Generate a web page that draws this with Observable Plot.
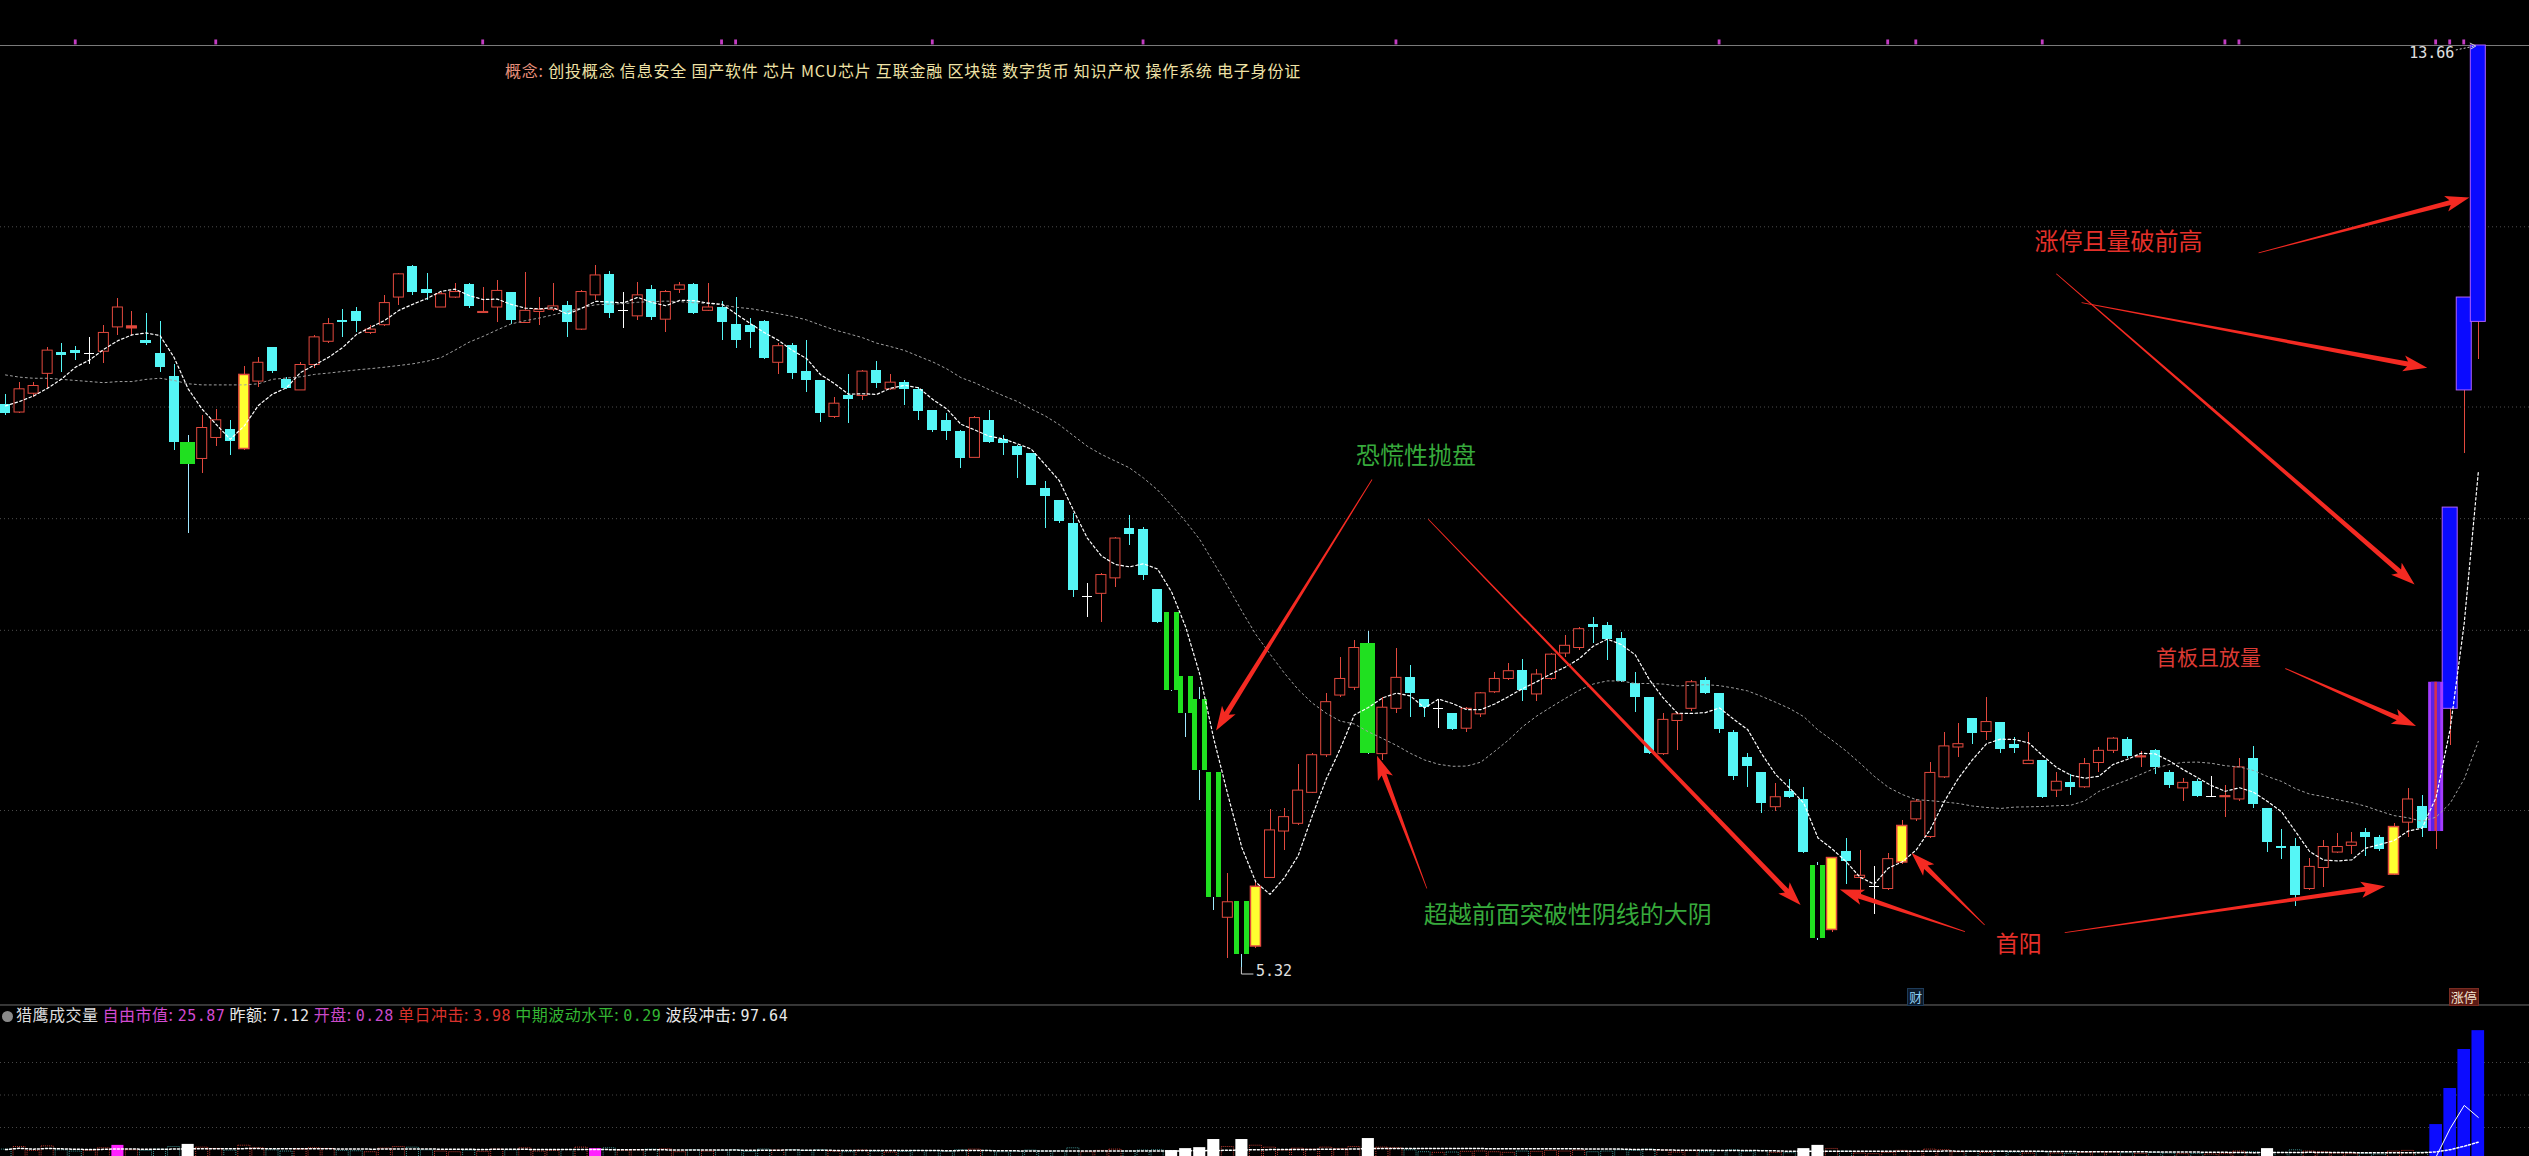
<!DOCTYPE html>
<html>
<head>
<meta charset="utf-8">
<script src="https://cdn.jsdelivr.net/npm/d3@7"></script>
<script src="https://cdn.jsdelivr.net/npm/@observablehq/plot@0.6"></script>
<style>
  html, body { margin: 0; padding: 0; background: #000; }
  #wrap { position: relative; width: 2529px; height: 1156px; overflow: hidden; background: #000;
          font-family: "Noto Sans CJK SC", "Noto Sans", sans-serif; }
  #price { position: absolute; left: 0; top: 0; }
  #vol { position: absolute; left: 0; top: 1004px; }
  #concept { position: absolute; left: 505px; top: 60px; font-size: 16px; line-height: 20px;
             color: #efe2a6; white-space: pre; letter-spacing: 0.8px; }
  #volhead { position: absolute; left: 2px; top: 1004px; font-size: 16px; line-height: 20px;
             white-space: pre; color: #e6e6e6; letter-spacing: 0.5px; }
  #volhead .num { font-family: "DejaVu Sans Mono", monospace; font-size: 15px; }
  .icon { display: inline-block; width: 11px; height: 11px; border-radius: 50%; background: #8a8a8a;
          margin-right: 3px; vertical-align: -1px; }
  .tag { position: absolute; font-size: 13px; line-height: 16px; padding: 0 1px; }
</style>
</head>
<body>
<div id="wrap">
  <div id="price"></div>
  <div id="vol"></div>
  <div id="concept"></div>
  <div id="volhead"></div>
</div>
<script>
// ---------- daily bars ----------
const open = [
10.41,10.34,10.51,10.69,10.88,10.90,10.87,10.89,11.11,11.10,
10.99,10.87,10.67,10.07,9.92,10.11,10.19,10.01,10.62,10.93,
10.64,10.54,10.77,10.98,11.17,11.25,11.06,11.13,11.38,11.66,
11.45,11.29,11.38,11.50,11.24,11.29,11.43,11.15,11.25,11.27,
11.31,11.09,11.40,11.59,11.26,11.21,11.45,11.18,11.45,11.50,
11.26,11.29,11.14,11.13,11.16,10.79,10.95,10.71,10.63,10.30,
10.49,10.49,10.72,10.55,10.61,10.55,10.36,10.27,10.17,9.93,
10.27,10.10,10.03,9.97,9.65,9.54,9.34,8.68,8.70,8.84,
9.29,9.28,8.74,8.53,7.95,7.74,7.08,5.77,5.92,5.51,
6.13,6.55,6.62,6.90,7.24,7.78,7.85,8.25,7.25,7.66,
7.94,7.74,7.66,7.62,7.48,7.61,7.81,7.93,8.01,7.79,
7.93,8.16,8.21,8.42,8.41,8.30,7.89,7.76,7.25,7.55,
7.66,7.92,7.80,7.45,7.22,7.08,6.77,6.91,6.84,6.24,
5.66,6.37,6.13,6.05,6.03,6.27,6.66,6.50,7.04,7.31,
7.57,7.45,7.54,7.34,7.16,7.19,6.92,6.99,6.95,7.17,
7.28,7.38,7.22,7.28,7.08,6.94,7.00,6.87,6.86,6.84,
7.21,6.76,6.41,6.41,6.03,6.22,6.36,6.42,6.54,6.50,
6.16,6.63,6.78,6.55,7.66,10.54,11.16
];
const high = [
10.50,10.61,10.61,10.93,10.96,10.94,11.02,11.13,11.37,11.25,
11.24,11.16,10.77,10.13,10.31,10.37,10.27,10.76,10.84,10.93,
10.66,10.79,11.04,11.19,11.27,11.29,11.13,11.40,11.60,11.67,
11.60,11.43,11.51,11.51,11.47,11.53,11.43,11.61,11.38,11.51,
11.34,11.44,11.67,11.62,11.43,11.52,11.49,11.44,11.52,11.51,
11.51,11.34,11.38,11.19,11.17,10.96,10.96,10.99,10.63,10.48,
10.68,10.72,10.80,10.68,10.63,10.57,10.36,10.33,10.18,10.30,
10.36,10.13,10.04,9.97,9.72,9.54,9.43,8.79,8.88,9.21,
9.41,9.30,8.74,8.53,7.95,7.85,7.08,6.17,5.92,6.09,
6.75,6.76,7.16,7.26,7.80,8.12,8.28,8.36,7.76,8.21,
8.05,7.74,7.74,7.62,7.67,7.81,7.99,8.07,8.11,8.02,
8.16,8.32,8.40,8.49,8.44,8.35,7.99,7.76,7.62,7.63,
7.92,7.94,7.80,7.46,7.26,7.08,6.98,7.02,6.95,6.27,
6.31,6.49,6.38,6.23,6.35,6.65,6.84,7.17,7.45,7.53,
7.57,7.76,7.54,7.40,7.45,7.19,7.08,7.07,7.21,7.31,
7.40,7.40,7.27,7.29,7.10,7.03,7.02,7.05,6.97,7.21,
7.32,6.76,6.57,6.49,6.31,6.47,6.53,6.54,6.58,6.51,
6.62,6.94,6.88,7.90,9.48,11.38,13.66
];
const low = [
10.31,10.33,10.48,10.56,10.70,10.81,10.77,10.78,11.04,11.04,
10.95,10.70,10.00,9.25,9.79,10.03,9.95,10.00,10.57,10.69,
10.55,10.54,10.74,10.96,11.02,11.06,11.05,11.12,11.31,11.40,
11.35,11.29,11.37,11.28,11.24,11.15,11.14,11.15,11.13,11.25,
11.02,11.08,11.35,11.19,11.10,11.17,11.17,11.06,11.42,11.23,
11.25,10.99,10.92,10.92,10.82,10.68,10.64,10.52,10.25,10.29,
10.24,10.45,10.56,10.54,10.40,10.27,10.16,10.09,9.83,9.93,
10.06,9.95,9.74,9.68,9.29,9.34,8.67,8.49,8.44,8.76,
9.14,8.82,8.43,7.82,7.40,6.83,5.84,5.40,5.32,5.49,
6.13,6.38,6.60,6.89,7.22,7.76,7.83,7.25,7.19,7.62,
7.58,7.58,7.48,7.46,7.45,7.58,7.80,7.92,7.73,7.73,
7.92,8.12,8.19,8.25,8.10,7.90,7.63,7.25,7.24,7.28,
7.64,7.79,7.44,7.01,6.95,6.71,6.73,6.85,6.35,5.56,
5.64,6.07,5.94,5.80,6.02,6.25,6.64,6.49,7.03,7.22,
7.34,7.37,7.26,7.26,7.16,6.85,6.86,6.88,6.94,7.08,
7.26,7.21,7.13,7.07,6.94,6.82,6.86,6.86,6.68,6.82,
6.76,6.36,6.30,5.87,6.02,6.04,6.35,6.34,6.32,6.37,
6.15,6.50,6.50,6.39,7.33,9.97,10.82
];
const close = [
10.33,10.55,10.58,10.90,10.86,10.87,10.87,11.06,11.29,11.12,
10.96,10.75,10.07,9.87,10.20,10.27,10.08,10.68,10.79,10.71,
10.56,10.77,11.02,11.14,11.15,11.16,11.09,11.33,11.59,11.43,
11.42,11.41,11.43,11.30,11.25,11.44,11.17,11.26,11.27,11.30,
11.15,11.43,11.58,11.24,11.26,11.40,11.20,11.43,11.49,11.24,
11.29,11.15,10.99,11.06,10.83,10.94,10.69,10.63,10.33,10.42,
10.46,10.71,10.60,10.61,10.55,10.35,10.18,10.17,9.92,10.29,
10.07,10.06,9.95,9.68,9.58,9.35,8.73,8.68,8.87,9.20,
9.24,8.87,8.44,7.83,7.62,7.10,5.95,5.91,5.44,6.05,
6.56,6.68,6.92,7.24,7.72,7.93,8.21,7.26,7.67,7.94,
7.80,7.67,7.66,7.47,7.66,7.80,7.93,8.00,7.83,7.97,
8.15,8.23,8.38,8.40,8.29,7.91,7.76,7.26,7.56,7.61,
7.90,7.80,7.47,7.05,7.14,6.80,6.86,6.86,6.36,5.58,
6.31,6.28,6.15,6.05,6.30,6.60,6.82,7.08,7.32,7.34,
7.44,7.54,7.29,7.30,7.19,6.86,7.00,6.95,7.16,7.28,
7.39,7.23,7.23,7.13,6.97,6.99,6.87,6.87,6.87,7.13,
6.79,6.45,6.40,5.97,6.23,6.41,6.41,6.45,6.50,6.39,
6.59,6.84,6.58,7.90,9.48,11.38,13.66
];
// bar style: c = falling, r = rising, d = flat cross, rd = red flat,
// g = panic sell-off (green twin stripes), G = heavy green bar,
// y = first rising bar (yellow), p = first limit-up (purple), b = limit-up (blue)
const kind = [
"c","r","r","r","c","c","d","r","r","rd",
"c","c","c","G","r","r","c","y","r","c",
"c","r","r","r","c","c","r","r","r","c",
"c","r","r","c","r","r","c","r","r","r",
"c","r","r","c","d","r","c","r","r","c",
"r","c","c","c","c","r","c","c","c","r",
"c","r","c","r","c","c","c","c","c","r",
"c","c","c","c","c","c","c","d","r","r",
"c","c","c","g","g","g","g","r","g","y",
"r","r","r","r","r","r","r","G","r","r",
"c","c","d","c","r","r","r","r","c","r",
"r","r","r","c","c","c","c","c","r","r",
"r","c","c","c","c","c","r","c","c","g",
"y","c","r","d","r","y","r","r","r","r",
"c","r","c","c","r","c","r","c","r","r",
"r","c","rd","c","c","r","c","d","rd","r",
"c","c","c","c","r","r","r","r","c","c",
"y","r","c","p","b","b","b"
];
// volume (panel units) and the day markers in that panel
const volume = [
3.2,4.0,2.8,4.2,3.0,2.6,2.8,3.6,4.5,3.0,
2.8,3.2,4.0,4.8,3.8,3.4,2.9,4.4,3.6,3.0,
2.6,3.2,3.6,3.4,2.8,2.7,2.4,3.5,4.0,3.8,
3.0,2.6,2.4,2.9,2.5,3.2,3.0,3.6,2.6,2.8,
3.1,3.8,3.5,3.6,2.8,3.0,3.2,3.3,2.4,3.0,
2.6,2.8,3.0,2.5,3.2,2.9,3.0,2.8,3.0,2.6,
2.4,2.9,2.6,2.3,2.5,2.8,2.7,2.5,3.0,3.2,
2.8,2.4,2.5,2.9,2.6,2.7,3.6,2.4,2.8,3.2,
2.6,2.9,3.0,2.9,3.5,3.8,6.3,4.0,6.3,4.4,
3.8,2.9,3.5,3.2,3.8,3.4,4.0,6.6,3.8,3.6,
3.0,2.4,2.2,2.3,2.5,2.6,2.4,2.2,2.6,2.5,
2.8,2.6,2.9,2.4,2.6,3.0,2.8,3.2,2.9,2.3,
2.7,2.4,2.8,3.0,2.5,2.8,2.2,2.1,3.5,4.5,
3.4,2.6,2.0,1.8,2.2,2.8,2.5,3.2,3.0,2.4,
2.6,2.2,2.6,2.3,2.0,2.4,2.0,1.9,2.2,2.4,
2.3,2.1,1.9,2.2,2.0,1.8,1.9,1.7,1.8,2.6,
2.4,3.5,2.2,3.0,2.6,2.4,2.0,1.8,1.9,1.7,
2.6,2.8,2.3,10.9,22.0,34.0,39.8
];
const whiteVolDays = [13, 83, 84, 85, 86, 88, 97, 128, 129, 161];
const magentaVolDays = [8, 42];
const surgeDays = [173, 174, 175, 176];
const surgeLine = [1.0, 9.7, 16.8, 13.1];
const volGrid = [10, 20, 30];

// moving-average values on the first days (their windows start before the first bar)
const ma5Lead = [10.40, 10.44, 10.49, 10.56];
const ma20Lead = [10.68,10.66,10.65,10.65,10.64,10.63,10.62,10.61,10.62,10.62,
                  10.64,10.65,10.63,10.60,10.59,10.59,10.59,10.59,10.60];

// price grid, top/bottom extremes and information-mine markers
const priceGrid = [12.02, 10.39, 9.38, 8.37, 6.74];
const priceTop = 13.66, priceBottom = 5.32;
const infoMarkDays = [5, 15, 34, 51, 52, 66, 81, 99, 122, 134, 136, 145, 158, 159, 173, 174, 175];

// headers
const conceptLabel = "概念:";
const conceptTags = ["创投概念","信息安全","国产软件","芯片","MCU芯片","互联金融","区块链","数字货币","知识产权","操作系统","电子身份证"];
const volTitle = "猎鹰成交量";
const volStatNames = ["自由市值", "昨额", "开盘", "单日冲击", "中期波动水平", "波段冲击"];
const volStatValues = ["25.87", "7.12", "0.28", "3.98", "0.29", "97.64"];
const volStatColors = ["#d24ad2", "#e8e8e8", "#c94ac9", "#d8322c", "#33b533", "#e8e8e8"];

// annotations: text, position (bar index, price), colour
const noteText = ["恐慌性抛盘", "超越前面突破性阴线的大阴", "首阳", "涨停且量破前高", "首板且放量"];
const noteDay = [100.4, 111.2, 143.3, 150.4, 156.8];
const notePrice = [9.94, 5.79, 5.53, 11.88, 8.12];
const noteColor = ["#37aa3c", "#37aa3c", "#e5302a", "#e5302a", "#dc3a34"];
const noteSize = [24, 24, 23, 24, 21];
// arrows: from (day, price) to (day, price)
const arrowFrom = [[97.3,9.73],[101.3,9.37],[101.2,6.03],[139.5,5.64],[140.9,5.70],[146.6,5.63],[162.3,8.02],[160.4,11.78],[147.8,11.33],[146.0,11.59]];
const arrowTo   = [[86.2,7.46],[127.8,5.88],[97.65,7.23],[130.6,6.02],[135.7,6.35],[169.4,6.05],[171.6,7.50],[175.4,12.28],[172.4,10.74],[171.5,8.78]];
// small flags under the bars
const flagText = ["财", "涨停"];
const flagDay = [136, 175];

// ---------- derived series ----------
const N = close.length;
const bars = d3.range(N).map(i => ({
  i, o: open[i], h: high[i], l: low[i], c: close[i], k: kind[i],
  top: Math.max(open[i], close[i]), bot: Math.min(open[i], close[i])
}));
function movingAverage(vals, k, lead) {
  return vals.map((_, i) => i < k - 1 ? lead[i] : d3.mean(vals.slice(i - k + 1, i + 1)));
}
const ma5 = movingAverage(close, 5, ma5Lead).map((v, i) => ({i, v}));
const ma20 = movingAverage(close, 20, ma20Lead).map((v, i) => ({i, v}));
const volMA = volume.map((_, i) => ({i, v: d3.mean(volume.slice(Math.max(0, i - 29), i + 1))}));

const UP = "#e2493e", DOWN = "#55f6f6", GREEN = "#20e020", YELLOW = "#ffff30",
      BLUE = "#0a0aff", PURPLE = "#a43cff", WICK_G = "#9fe8ff";
const HW = 0.356, WW = 0.534, GAP = 0.178;
const of = ks => bars.filter(d => ks.includes(d.k));

const xScale = {type: "linear", domain: [0, N - 1], range: [5, 5 + 14.05 * (N - 1)], axis: null};
const crisp = {shapeRendering: "crispEdges"};

const pricePlot = Plot.plot({
  width: 2529, height: 1004,
  marginTop: 0, marginRight: 0, marginBottom: 0, marginLeft: 0,
  x: xScale,
  y: {type: "linear", domain: [priceBottom, priceTop], range: [967, 45], axis: null},
  style: {background: "transparent"},
  marks: [
    Plot.ruleY(priceGrid, {stroke: "#4c4c4c", strokeDasharray: "1,3"}),
    Plot.ruleY([priceTop], {stroke: "#7a7a7a"}),
    Plot.rect(infoMarkDays, {x1: d => d - 0.1, x2: d => d + 0.1, y1: priceTop + 0.005, y2: priceTop + 0.05, fill: "#c33cc3"}),
    // wicks (upper and lower parts)
    ...[[["r","y","rd","b","p"], UP], [["c"], DOWN], [["g","G"], WICK_G], [["d"], "#ffffff"]].flatMap(([ks, col]) => [
      Plot.ruleX(of(ks), {x: "i", y1: "top", y2: "h", stroke: col, ...crisp}),
      Plot.ruleX(of(ks), {x: "i", y1: "l", y2: "bot", stroke: col, ...crisp})
    ]),
    // bodies
    Plot.rect(of(["c"]), {x1: d => d.i - HW, x2: d => d.i + HW, y1: "o", y2: "c", fill: DOWN, ...crisp}),
    Plot.rect(of(["r"]), {x1: d => d.i - HW, x2: d => d.i + HW, y1: "o", y2: "c", fill: "#000", stroke: UP, strokeWidth: 1}),
    Plot.rect(of(["rd"]), {x1: d => d.i - HW, x2: d => d.i + HW, y1: "o", y2: "c", fill: UP, stroke: UP}),
    Plot.ruleY(of(["d"]), {y: "c", x1: d => d.i - HW, x2: d => d.i + HW, stroke: "#ffffff", ...crisp}),
    Plot.rect(of(["y"]), {x1: d => d.i - HW, x2: d => d.i + HW, y1: "o", y2: "c", fill: YELLOW, stroke: UP, strokeWidth: 1.5}),
    Plot.rect(of(["G"]), {x1: d => d.i - WW, x2: d => d.i + WW, y1: "o", y2: "c", fill: GREEN, ...crisp}),
    Plot.rect(of(["g"]), {x1: d => d.i - WW, x2: d => d.i - GAP, y1: "o", y2: "c", fill: GREEN, ...crisp}),
    Plot.rect(of(["g"]), {x1: d => d.i + GAP, x2: d => d.i + WW, y1: "o", y2: "c", fill: GREEN, ...crisp}),
    Plot.rect(of(["b"]), {x1: d => d.i - WW, x2: d => d.i + WW, y1: "o", y2: "c", fill: BLUE, stroke: "#b060ff", strokeWidth: 1}),
    Plot.rect(of(["p"]), {x1: d => d.i - WW, x2: d => d.i + WW, y1: "o", y2: "c", fill: PURPLE}),
    Plot.rect(of(["p"]), {x1: d => d.i - 0.33, x2: d => d.i + 0.33, y1: "o", y2: "c", fill: "#5a22e8"}),
    Plot.rect(of(["p"]), {x1: d => d.i - 0.09, x2: d => d.i + 0.09, y1: "o", y2: "c", fill: "#d8304c"}),
    // moving averages
    Plot.line(ma20, {x: "i", y: "v", stroke: "#a0a0a0", strokeWidth: 1, strokeDasharray: "2,3"}),
    Plot.line(ma5, {x: "i", y: "v", stroke: "#ffffff", strokeWidth: 1.2, strokeDasharray: "2.5,2.5"}),
    // extreme labels
    Plot.text([N - 1], {x: d => d, y: priceTop, text: () => priceTop.toFixed(2), dx: -24, dy: 8, textAnchor: "end",
      fill: "#e0e0e0", fontSize: 15, fontFamily: "DejaVu Sans Mono, monospace"}),
    Plot.text([88], {x: d => d, y: priceBottom, text: () => priceBottom.toFixed(2), dx: 14, dy: 4, textAnchor: "start",
      fill: "#e0e0e0", fontSize: 15, fontFamily: "DejaVu Sans Mono, monospace"}),
    // annotations
    ...noteText.map((t, j) => Plot.text([j], {x: () => noteDay[j], y: () => notePrice[j], text: () => t,
      fill: noteColor[j], fontSize: noteSize[j], fontFamily: "Noto Sans CJK SC, sans-serif"}))
  ]
});
document.getElementById("price").appendChild(pricePlot);

// tapered annotation arrows and the small pointers next to the extreme labels
const sx = pricePlot.scale("x"), sy = pricePlot.scale("y");
const svg = d3.select(pricePlot);
function arrowPath(x0, y0, x1, y1, w0, w1, headLen, headHalf) {
  const L = Math.hypot(x1 - x0, y1 - y0), ux = (x1 - x0) / L, uy = (y1 - y0) / L, nx = -uy, ny = ux;
  const bx = x1 - ux * headLen, by = y1 - uy * headLen;
  const barbX = bx - ux * 4, barbY = by - uy * 4;
  const pts = [
    [x0 + nx * w0 / 2, y0 + ny * w0 / 2], [bx + nx * w1 / 2, by + ny * w1 / 2],
    [barbX + nx * headHalf, barbY + ny * headHalf], [x1, y1],
    [barbX - nx * headHalf, barbY - ny * headHalf], [bx - nx * w1 / 2, by - ny * w1 / 2],
    [x0 - nx * w0 / 2, y0 - ny * w0 / 2]
  ];
  return "M" + pts.map(p => p[0].toFixed(1) + "," + p[1].toFixed(1)).join("L") + "Z";
}
svg.append("g").selectAll("path").data(arrowFrom).join("path")
  .attr("d", (f, j) => arrowPath(sx.apply(f[0]), sy.apply(f[1]), sx.apply(arrowTo[j][0]), sy.apply(arrowTo[j][1]), 0.8, 5, 20, 8))
  .attr("fill", "#f42a22");
{
  const x = sx.apply(N - 1), y = sy.apply(priceTop);
  svg.append("path").attr("d", `M${x - 22},${y + 5}L${x - 3},${y + 1}`).attr("stroke", "#d0d0d0")
    .attr("stroke-dasharray", "2,2").attr("fill", "none");
  svg.append("path").attr("d", `M${x - 8},${y - 2}L${x - 2},${y + 1}L${x - 7},${y + 4}`).attr("stroke", "#d0d0d0").attr("fill", "none");
  const lx = sx.apply(88), ly = sy.apply(priceBottom);
  svg.append("path").attr("d", `M${lx},${ly}V${ly + 7}H${lx + 12}`).attr("stroke", "#d0d0d0").attr("fill", "none");
}

// ---------- volume panel ----------
const volBars = volume.map((v, i) => ({i, v, k: kind[i]}));
const isWhite = d => whiteVolDays.includes(d.i), isMag = d => magentaVolDays.includes(d.i), isSurge = d => surgeDays.includes(d.i);
const plain = volBars.filter(d => !isWhite(d) && !isMag(d) && !isSurge(d));
const rising = k => ["r", "y", "rd", "d"].includes(k);
const volPlot = Plot.plot({
  width: 2529, height: 152,
  marginTop: 0, marginRight: 0, marginBottom: 0, marginLeft: 0,
  x: xScale,
  y: {type: "linear", domain: [0, 47.85], range: [155.5, 0], axis: null},
  style: {background: "transparent"},
  marks: [
    Plot.ruleY([47.7], {stroke: "#6e6e6e"}),
    Plot.ruleY(volGrid, {stroke: "#474747", strokeDasharray: "1,3"}),
    Plot.rect(plain.filter(d => rising(d.k)), {x1: d => d.i - 0.43, x2: d => d.i + 0.43, y1: 0, y2: "v",
      fill: "none", stroke: "#b8392f", strokeDasharray: "1,1"}),
    Plot.rect(plain.filter(d => !rising(d.k)), {x1: d => d.i - 0.43, x2: d => d.i + 0.43, y1: 0, y2: "v",
      fill: "none", stroke: "#3d8c8c", strokeDasharray: "1,1"}),
    Plot.rect(volBars.filter(isWhite), {x1: d => d.i - 0.43, x2: d => d.i + 0.43, y1: 0, y2: "v", fill: "#ffffff"}),
    Plot.rect(volBars.filter(isMag), {x1: d => d.i - 0.43, x2: d => d.i + 0.43, y1: 0, y2: "v", fill: "#ff22ff"}),
    Plot.rect(volBars.filter(isSurge), {x1: d => d.i - 0.45, x2: d => d.i + 0.45, y1: 0, y2: "v", fill: "#0c0cff"}),
    Plot.line(volMA, {x: "i", y: "v", stroke: "#ffffff", strokeDasharray: "2,2"}),
    Plot.line(surgeDays.map((d, j) => ({i: d, v: surgeLine[j]})), {x: "i", y: "v", stroke: "#ffffff", strokeWidth: 1})
  ]
});
document.getElementById("vol").appendChild(volPlot);

// ---------- headers and flags ----------
document.getElementById("concept").innerHTML =
  `<span style="color:#e8917c">${conceptLabel}</span> ` + conceptTags.join(" ");
document.getElementById("volhead").innerHTML =
  `<span class="icon"></span><span style="color:#dcdcdc">${volTitle}</span> ` +
  volStatNames.map((n, j) => `<span style="color:${volStatColors[j]}">${n}: <span class="num">${volStatValues[j]}</span></span>`).join(" ");
const wrap = document.getElementById("wrap");
flagText.forEach((t, j) => {
  const el = document.createElement("div");
  el.className = "tag";
  el.textContent = t;
  const isLimit = t === "涨停";
  el.style.color = isLimit ? "#f4e4d0" : "#8fd0f4";
  el.style.background = isLimit ? "#5c1a14" : "#0c1a2a";
  el.style.border = isLimit ? "1px solid #7a2c22" : "1px solid #1e3c5a";
  wrap.appendChild(el);
  const w = el.offsetWidth;
  el.style.left = (sx.apply(flagDay[j]) - w / 2) + "px";
  el.style.top = "988px";
});
</script>
</body>
</html>
